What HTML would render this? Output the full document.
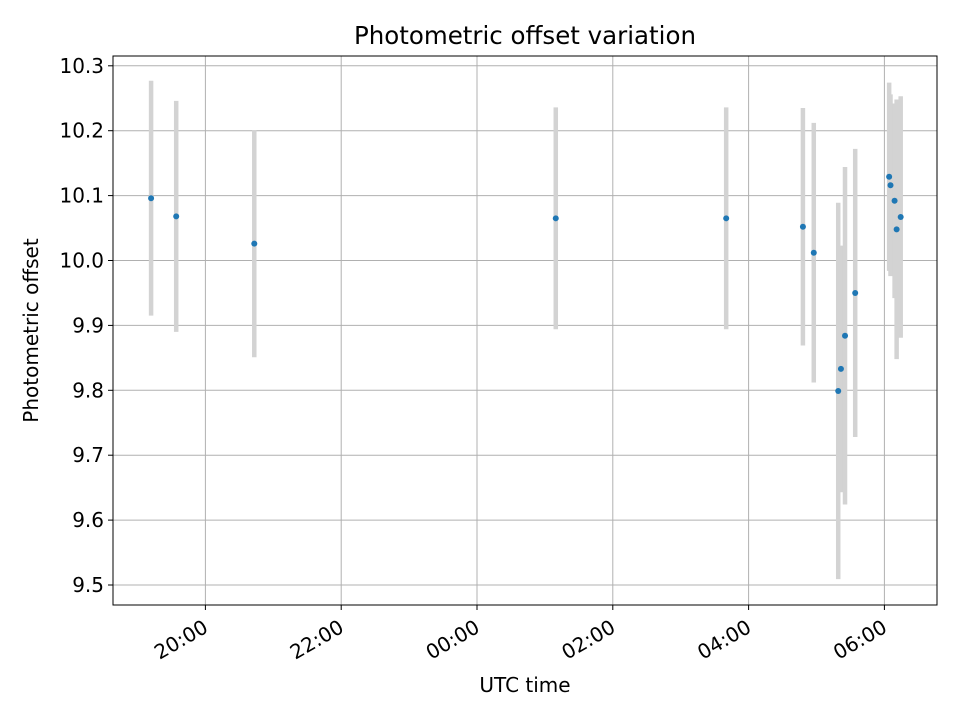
<!DOCTYPE html>
<html><head><meta charset="utf-8"><style>
body{margin:0;background:#fff;}
svg text{font-family:"DejaVu Sans","Liberation Sans",sans-serif;fill:#000;}
</style></head><body>
<svg id="chart" width="960" height="720" viewBox="0 0 960 720"></svg>
<script>
// hours relative to 00:00 UTC (negative = previous evening)
const times = [-4.80,-4.43,-3.28,1.16,3.67,4.80,4.96,5.32,5.36,5.42,5.57,6.07,6.09,6.15,6.24,6.18];
const values = [10.096,10.068,10.026,10.065,10.065,10.052,10.012,9.799,9.833,9.884,9.950,10.129,10.116,10.092,10.067,10.048];
const errors = [0.181,0.178,0.175,0.171,0.171,0.183,0.200,0.290,0.190,0.260,0.222,0.145,0.140,0.150,0.186,0.200];
const yTicks = [9.5,9.6,9.7,9.8,9.9,10.0,10.1,10.2,10.3];
const yTickLabels = ["9.5","9.6","9.7","9.8","9.9","10.0","10.1","10.2","10.3"];
const xTicks = [-4,-2,0,2,4,6];
const xTickLabels = ["20:00","22:00","00:00","02:00","04:00","06:00"];

const NS="http://www.w3.org/2000/svg";
const svg=document.getElementById('chart');
const L=113,R=937,T=56,B=605;
const xs=h=>477+h*67.9;
const ys=v=>585-(v-9.5)*649;
function mk(tag,attrs,parent){const e=document.createElementNS(NS,tag);for(const k in attrs)e.setAttribute(k,attrs[k]);(parent||svg).appendChild(e);return e;}

const grid=mk('g',{});


yTicks.forEach((v,i)=>{
  const y=ys(v);
  const l=mk('line',{x1:L,x2:R,y1:y,y2:y,stroke:'#b0b0b0','stroke-width':1},grid);
  
  
  mk('line',{x1:L-5,x2:L,y1:y,y2:y,stroke:'#000'});
  const t=mk('text',{x:L-9,y:y+7,'text-anchor':'end','font-size':20});
  
  
  t.textContent=yTickLabels[i];
});
xTicks.forEach((h,i)=>{
  const x=xs(h);
  const l=mk('line',{x1:x,x2:x,y1:T,y2:B,stroke:'#b0b0b0','stroke-width':1},grid);
  
  
  mk('line',{x1:x,x2:x,y1:B,y2:B+5,stroke:'#000'});
  const g=mk('g',{transform:`translate(${x-3} ${B+14}) rotate(-30)`});
  const t=mk('text',{x:0,y:14,'text-anchor':'end','font-size':20},g);
  
  
  t.textContent=xTickLabels[i];
});
const eg=mk('g',{});


times.forEach((h,i)=>{
  const e=mk('line',{x1:xs(h),x2:xs(h),y1:ys(values[i]+errors[i]),y2:ys(values[i]-errors[i]),stroke:'#d3d3d3','stroke-width':4.5},eg);
  
  
});
const pg=mk('g',{});


times.forEach((h,i)=>{
  const c=mk('circle',{cx:xs(h),cy:ys(values[i]),r:3,fill:'#1f77b4'},pg);
  
  
});
const fr=mk('rect',{x:L,y:T,width:R-L,height:B-T,fill:'none',stroke:'#000','stroke-width':1});


const ti=mk('text',{x:(L+R)/2,y:44,'text-anchor':'middle','font-size':24.5});


ti.textContent='Photometric offset variation';
const xl=mk('text',{x:(L+R)/2,y:692,'text-anchor':'middle','font-size':20});


xl.textContent='UTC time';
const yl=mk('text',{x:38,y:(T+B)/2,'text-anchor':'middle','font-size':20,transform:`rotate(-90 38 ${(T+B)/2})`});


yl.textContent='Photometric offset';
</script>
</body></html>
